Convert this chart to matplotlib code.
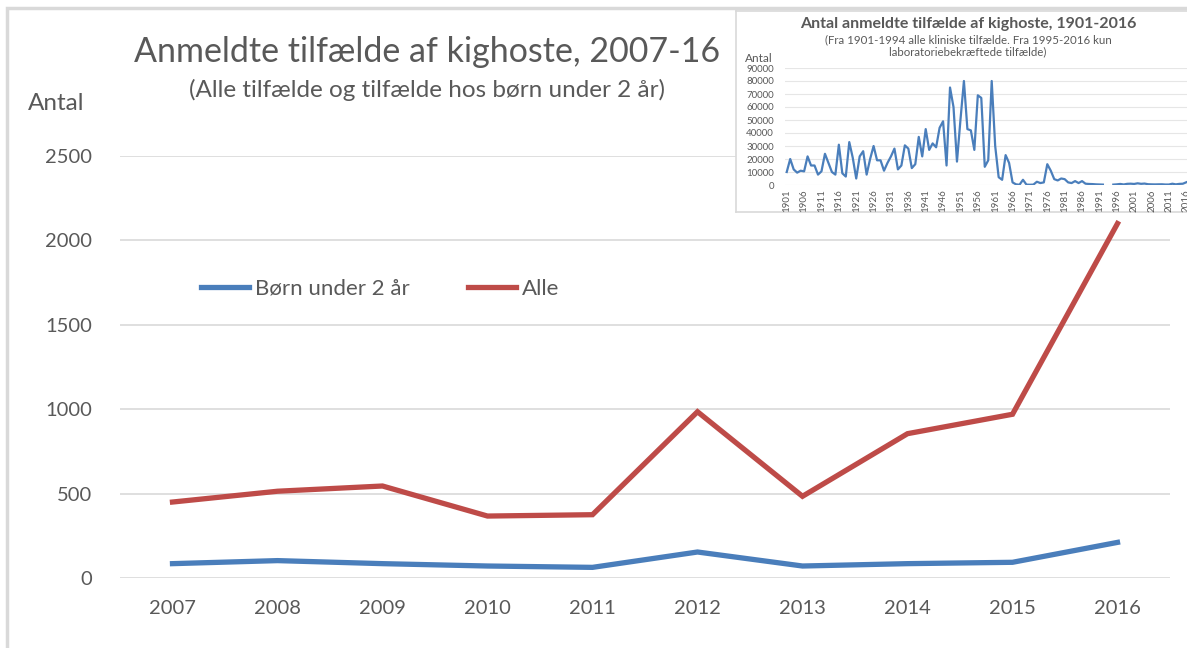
import numpy as np
import matplotlib
matplotlib.use("Agg")
import matplotlib.pyplot as plt
from matplotlib.patches import Rectangle

plt.rcParams["font.family"] = ["Lato", "DejaVu Sans"]

# =========================
# DATA
# =========================

years = ["2007", "2008", "2009", "2010", "2011",
         "2012", "2013", "2014", "2015", "2016"]

boern = [85, 103, 85, 71, 63, 154, 71, 85, 93, 211]
alle = [450, 514, 545, 367, 375, 985, 484, 855, 970, 2100]

# inset: all reported cases 1901-2016 (1993-94 missing in the line)
hist_years = list(range(1901, 2017))
hist_cases = [
    10000, 20000, 12000, 9500, 11000, 10500, 22000, 15000, 15000, 8000,
    10500, 24000, 17000, 10000, 8000, 31000, 9000, 6500, 33000, 21000,
    5000, 22000, 26000, 8000, 20000, 30000, 19000, 19000, 11000, 17000,
    22000, 28000, 12000, 15000, 30500, 28000, 13000, 16000, 37000, 22000,
    43000, 27000, 32000, 29000, 44000, 49000, 15000, 75000, 60000, 18000,
    50000, 80000, 43000, 42000, 27000, 69000, 67000, 14000, 19000, 80000,
    30000, 6000, 4000, 23000, 17000, 2000, 500, 200, 4000, 300,
    200, 300, 2500, 1500, 2000, 16000, 11000, 4500, 3500, 5000,
    4500, 2000, 1500, 3000, 1500, 3000, 1000, 800, 700, 500,
    400, 300, np.nan, np.nan, 300, 500, 800, 400, 900, 1000,
    800, 1300, 900, 1100, 600, 500, 450, 514, 545, 367,
    375, 985, 484, 855, 970, 2100,
]

BLUE = "#4a7ebb"
RED = "#be4b48"
TXT = "#595959"
GRID = "#d9d9d9"

# =========================
# FIGURE
# =========================

fig = plt.figure(figsize=(11.87, 6.48), dpi=100)

# outer chart frame (only top/left edges fall inside the picture)
fig.patches.append(Rectangle((7 / 1187, -0.1), 1.2, 1.1 - 8 / 648,
                             transform=fig.transFigure, fill=False,
                             edgecolor=GRID, linewidth=2.5))

ax = fig.add_axes([120 / 1187, 1 - 578 / 648, 1050 / 1187, 422 / 648])

x = np.arange(len(years))
ax.plot(x, boern, color=BLUE, linewidth=3.8, label="Børn under 2 år",
        solid_joinstyle="miter")
ax.plot(x, alle, color=RED, linewidth=3.8, label="Alle",
        solid_joinstyle="miter")

ax.set_xlim(-0.5, len(years) - 0.5)
ax.set_ylim(0, 2500)
ax.set_yticks([0, 500, 1000, 1500, 2000, 2500])
ax.set_xticks(x)
ax.set_xticklabels(years)
ax.tick_params(axis="both", length=0, labelsize=14.5, colors=TXT)
ax.tick_params(axis="y", pad=20)
ax.tick_params(axis="x", pad=16)
ax.grid(axis="y", color=GRID, linewidth=1.2)
ax.set_axisbelow(True)
for s in ax.spines.values():
    s.set_visible(False)

ax.legend(loc="center left", bbox_to_anchor=(0.058, 0.685), ncol=2,
          frameon=False, fontsize=16, handlelength=2.15, handletextpad=0.3,
          columnspacing=2.6, labelcolor=TXT)

fig.text(0.36, 1 - 52 / 648, "Anmeldte tilfælde af kighoste, 2007-16",
         ha="center", va="center", fontsize=24.5, color=TXT)
fig.text(0.36, 1 - 90 / 648, "(Alle tilfælde og tilfælde hos børn under 2 år)",
         ha="center", va="center", fontsize=17.5, color=TXT)
fig.text(28 / 1187, 1 - 103 / 648, "Antal", ha="left", va="center",
         fontsize=17.5, color=TXT)

# =========================
# INSET 1901-2016
# =========================

box = fig.add_axes([736 / 1187, 1 - 212 / 648, 460 / 1187, 201 / 648])
box.set_xticks([])
box.set_yticks([])
box.set_facecolor("white")
for s in box.spines.values():
    s.set_color(GRID)
    s.set_linewidth(1.2)

ins = fig.add_axes([785 / 1187, 1 - 185 / 648, 403 / 1187, 117 / 648])
xi = np.arange(len(hist_years))
ins.plot(xi, hist_cases, color=BLUE, linewidth=1.6)
ins.set_xlim(-0.5, len(hist_years) - 0.5)
ins.set_ylim(0, 90000)
ins.set_yticks(range(0, 90001, 10000))
ins.set_xticks(xi[::5])
ins.set_xticklabels([str(y) for y in hist_years[::5]], rotation=90)
ins.tick_params(axis="both", length=0, labelsize=7, colors=TXT)
ins.tick_params(axis="y", pad=8)
ins.tick_params(axis="x", pad=3)
ins.grid(axis="y", color="#e6e6e6", linewidth=0.8)
ins.set_axisbelow(True)
ins.patch.set_alpha(0)
for s in ins.spines.values():
    s.set_visible(False)

fig.text(968 / 1187, 1 - 24 / 648,
         "Antal anmeldte tilfælde af kighoste, 1901-2016",
         ha="center", va="center", fontsize=11.5, fontweight="bold", color=TXT)
fig.text(968 / 1187, 1 - 40 / 648,
         "(Fra 1901-1994 alle kliniske tilfælde. Fra 1995-2016 kun",
         ha="center", va="center", fontsize=8.3, color=TXT)
fig.text(968 / 1187, 1 - 51.5 / 648,
         "laboratoriebekræftede tilfælde)",
         ha="center", va="center", fontsize=8.3, color=TXT)
fig.text(745 / 1187, 1 - 58 / 648, "Antal", ha="left", va="center",
         fontsize=8.5, color=TXT)

fig.savefig("out.png", dpi=100)
